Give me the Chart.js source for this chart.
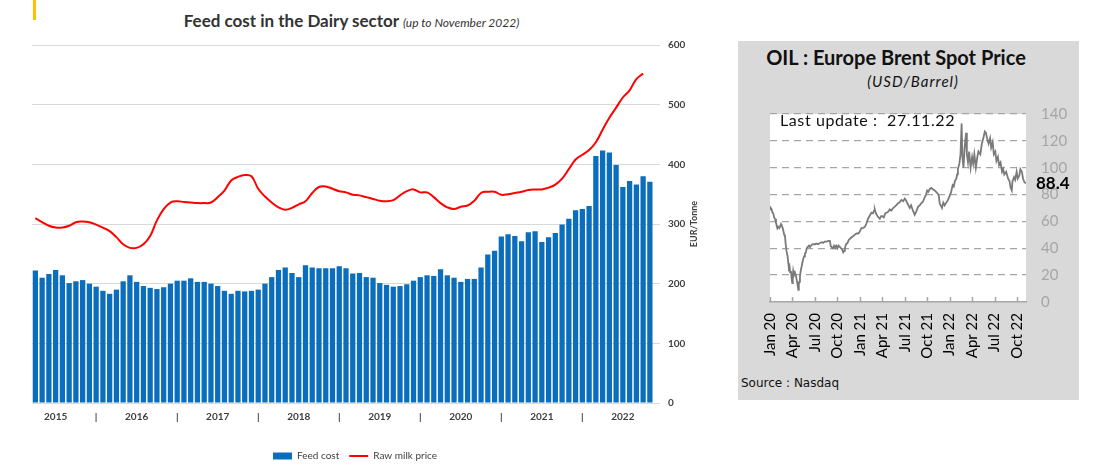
<!DOCTYPE html>
<html>
<head>
<meta charset="utf-8">
<script src="https://cdn.jsdelivr.net/npm/chart.js@4.4.0/dist/chart.umd.min.js"></script>
<style>
  html, body { margin: 0; padding: 0; background: #fff; }
  body { width: 1099px; height: 474px; position: relative; overflow: hidden; font-family: Lato, sans-serif; }
  .abs { position: absolute; }
  #marker { left: 33px; top: 0; width: 3px; height: 20px; background: #ffc000; }
  #feedTitle { left: 0; width: 703px; top: 10px; text-align: center; color: #333; font-size: 17px; font-weight: bold; line-height: 22px; white-space: nowrap; }
  #feedTitle i { font-size: 12px; font-weight: normal; }
  #feedWrap { left: 0; top: 30px; width: 710px; height: 444px; }
  #oilPanel { left: 738px; top: 41px; width: 341px; height: 359px; background: #d9d9d9; }
  #oilTitle { left: 738px; width: 316px; top: 45px; text-align: center; font-size: 20px; font-weight: bold; line-height: 24px; color: #111; white-space: nowrap; }
  #oilSub { left: 738px; width: 350px; top: 72px; text-align: center; font-size: 15px; font-style: italic; letter-spacing: 1px; line-height: 19px; color: #111; }
  #oilWrap { left: 738px; top: 90px; width: 342px; height: 275px; }
  #lastUpd { left: 780px; top: 110px; font-size: 16px; letter-spacing: 0.6px; line-height: 20px; color: #111; white-space: pre; }
  #source { left: 741px; top: 376px; font-family: "DejaVu Sans", sans-serif; font-size: 12px; line-height: 15px; color: #111; }
</style>
</head>
<body>
<div id="marker" class="abs"></div>
<div id="feedTitle" class="abs">Feed cost in the Dairy sector <i>(up to November 2022)</i></div>
<div id="feedWrap" class="abs"><canvas id="feedChart" width="710" height="444"></canvas></div>

<div id="oilPanel" class="abs"></div>
<div id="oilTitle" class="abs">OIL : Europe Brent Spot Price</div>
<div id="oilSub" class="abs">(USD/Barrel)</div>
<div id="oilWrap" class="abs"><canvas id="oilChart" width="342" height="275"></canvas></div>
<div id="lastUpd" class="abs">Last update :  27.11.22</div>
<div id="source" class="abs">Source : Nasdaq</div>

<script>
// Feed cost vs raw milk price, monthly from Apr 2015 (EUR/Tonne)
const monthNames = ['Jan', 'Feb', 'Mar', 'Apr', 'May', 'Jun', 'Jul', 'Aug', 'Sep', 'Oct', 'Nov', 'Dec'];
const months = [];
for (let y = 2015, m = 3; months.length < 93; ) {
    months.push(monthNames[m] + ' ' + y);
    m++;
    if (m === 12) { m = 0; y++; }
}

const feedCost = [
    222, 210, 216, 223, 214, 201, 204, 206, 200, 195,
    188, 183, 190, 204, 214, 203, 196, 193, 191, 194,
    200, 205, 205, 209, 203, 203, 200, 196, 188, 183,
    188, 187, 188, 190, 200, 211, 223, 227, 218, 211,
    231, 227, 226, 226, 226, 229, 226, 217, 218, 211,
    210, 201, 198, 195, 196, 199, 205, 211, 214, 213,
    224, 214, 210, 203, 208, 208, 227, 249, 255, 279,
    283, 280, 271, 286, 288, 270, 278, 285, 299, 309,
    323, 325, 330, 414, 423, 420, 399, 362, 372, 366,
    380, 371
];

const milkPrice = [
    310, 303, 297, 294, 294, 297, 303, 304, 303, 299,
    294, 288, 278, 266, 260, 260, 266, 280, 306, 325,
    336, 338, 337, 336, 335, 335, 336, 345, 356, 373,
    379, 382, 380, 359, 346, 336, 328, 324, 327, 333,
    338, 352, 362, 363, 359, 355, 353, 349, 348, 345,
    342, 339, 338, 340, 348, 355, 358, 353, 353, 345,
    335, 328, 325, 329, 331, 339, 352, 354, 354, 349,
    350, 352, 354, 357, 358, 358, 361, 366, 376, 392,
    408, 416, 424, 437, 458, 478, 495, 512, 524, 543,
    552, null
];

const feedTicks = [0, 100, 200, 300, 400, 500, 600];

// Brent spot price, x = months since Jan 2020
const oilMonth = [
    0, 0.1, 0.22, 0.3, 0.44, 0.55, 0.67, 0.8, 0.9, 1.0, 1.1, 1.25, 1.4, 1.47, 1.55, 1.64, 1.75, 1.9,
    2.0, 2.1, 2.2, 2.35, 2.45, 2.53, 2.62, 2.7, 2.8, 2.9, 2.98, 3.05, 3.1, 3.2, 3.33, 3.45, 3.55, 3.65,
    3.78, 3.85, 3.9, 4.0, 4.13, 4.25, 4.35, 4.44, 4.55, 4.67, 4.8, 4.9, 5.05, 5.2, 5.35, 5.55, 5.75,
    6.0, 6.2, 6.45, 6.67, 6.9, 7.1, 7.3, 7.55, 7.8, 8.0, 8.1, 8.2, 8.4, 8.55, 8.67, 8.85, 9.0, 9.15,
    9.33, 9.5, 9.65, 9.78, 9.9, 10.0, 10.15, 10.36, 10.5, 10.67, 10.85, 11.1, 11.3, 11.55, 11.8,
    12.0, 12.2, 12.4, 12.67, 12.85, 13.1, 13.3, 13.55, 13.75, 13.9, 14.0, 14.15, 14.35, 14.5, 14.67,
    14.85, 15.0, 15.2, 15.4, 15.55, 15.75, 16.0, 16.2, 16.45, 16.67, 16.85, 17.1, 17.3, 17.55, 17.8,
    18.0, 18.15, 18.35, 18.5, 18.67, 18.85, 19.1, 19.33, 19.5, 19.65, 19.8, 20.0, 20.2, 20.45, 20.67,
    20.85, 21.0, 21.15, 21.33, 21.55, 21.75, 22.0, 22.2, 22.44, 22.55, 22.67, 22.8, 22.98, 23.15,
    23.33, 23.55, 23.78, 24.0, 24.2, 24.4, 24.55, 24.7, 24.9, 25.0, 25.1, 25.3, 25.45, 25.6, 25.7,
    25.85, 26.0, 26.2, 26.3, 26.45, 26.6, 26.8, 27.0, 27.15, 27.3, 27.5, 27.7, 27.85, 28.1, 28.3,
    28.5, 28.7, 28.85, 29.0, 29.2, 29.4, 29.55, 29.75, 29.9, 30.1, 30.25, 30.45, 30.6, 30.8, 31.0,
    31.15, 31.3, 31.55, 31.8, 32.0, 32.15, 32.3, 32.4, 32.6, 32.75, 32.95, 33.1, 33.3, 33.45, 33.65,
    33.8, 34.0, 34.2
];

const oilPrice = [
    69, 70, 69, 67, 66, 63, 62, 59, 57, 55, 56, 55, 57, 58, 57, 56, 54, 50,
    49, 43, 38, 34, 29, 25, 26, 22, 23, 17, 14, 20, 23, 20, 22, 20, 17, 14,
    9, 13, 15, 19, 24, 27, 30, 32, 34, 36, 37, 40, 41, 42, 41, 42.5, 43,
    43, 43.5, 43, 44, 44.5, 44, 45, 45, 45.5, 45.5, 42, 41, 40, 42, 41, 42, 40, 42,
    41, 40, 39, 37, 38, 40, 43, 44, 46, 47, 48, 49, 50, 51, 51,
    52.5, 55, 55, 56, 58, 62, 64, 66.5, 66, 68, 69, 66, 64, 63, 62,
    64, 64, 63, 66, 66.5, 67, 69, 68, 70, 71, 72, 73.5, 74, 76, 75,
    77, 76, 73.5, 72, 70, 72, 68, 65, 67, 69, 71, 72, 73.5, 75, 78,
    80, 83, 82, 84, 85, 84, 83, 82, 80.5, 79, 73.5, 72, 70, 74,
    72, 74, 76, 79, 82, 87, 86, 90, 92, 95, 99, 103, 110, 133, 108,
    100, 115, 126, 110, 104, 112, 100, 108, 103, 110, 100, 108, 112, 110, 118,
    122, 127, 126, 122, 118, 122, 115, 119, 110, 112, 105, 108, 102, 104, 97,
    99, 95, 97, 92, 90, 85, 83, 90, 93, 91, 97, 92, 94, 99, 97,
    92, 89, 88.4
];

const oilTickMonths = [0, 3, 6, 9, 12, 15, 18, 21, 24, 27, 30, 33];
const oilTickLabels = ['Jan 20', 'Apr 20', 'Jul 20', 'Oct 20', 'Jan 21', 'Apr 21', 'Jul 21', 'Oct 21', 'Jan 22', 'Apr 22', 'Jul 22', 'Oct 22'];

// rotated axis title on the right side, reading bottom-to-top
const yTitlePlugin = {
    id: 'yTitle',
    afterDraw(chart) {
        const ctx = chart.ctx;
        const a = chart.chartArea;
        ctx.save();
        ctx.translate(a.right + 34, (a.top + a.bottom) / 2);
        ctx.rotate(-Math.PI / 2);
        ctx.font = 'bold 9px Lato';
        ctx.fillStyle = '#404040';
        ctx.textAlign = 'center';
        ctx.textBaseline = 'middle';
        ctx.fillText('EUR/Tonne', 0, 0);
        ctx.restore();
    }
};

new Chart(document.getElementById('feedChart').getContext('2d'), {
    data: {
        labels: months,
        datasets: [{
            type: 'bar',
            label: 'Feed cost',
            data: feedCost,
            yAxisID: 'y',
            backgroundColor: '#0a6ebd',
            borderWidth: 0,
            barPercentage: 0.78,
            categoryPercentage: 1,
            pointStyle: 'rect',
            order: 2
        }, {
            type: 'line',
            label: 'Raw milk price',
            data: milkPrice,
            yAxisID: 'y',
            borderColor: '#ff0000',
            backgroundColor: '#ff0000',
            borderWidth: 2,
            pointRadius: 0,
            pointStyle: 'line',
            tension: 0.4,
            order: 1
        }]
    },
    options: {
        responsive: false,
        animation: false,
        layout: { padding: { left: 0, right: 0, top: 15, bottom: 3 } },
        plugins: {
            tooltip: { enabled: false },
            legend: {
                position: 'bottom',
                labels: {
                    usePointStyle: true,
                    pointStyleWidth: 19,
                    boxHeight: 7,
                    padding: 10,
                    color: '#404040',
                    font: { family: 'Lato', size: 10 },
                    sort: (a, b) => a.datasetIndex - b.datasetIndex
                }
            }
        },
        scales: {
            x: {
                grid: { display: false, drawTicks: false },
                border: { display: false },
                ticks: {
                    autoSkip: false,
                    maxRotation: 0,
                    minRotation: 0,
                    padding: 8,
                    color: '#404040',
                    font: { family: 'Lato', size: 10, weight: 'bold' },
                    callback: function(value, index) {
                        const lab = months[index];
                        if (lab.startsWith('Jul')) return lab.slice(4);
                        if (lab.startsWith('Jan')) return '|';
                        return '';
                    }
                },
                afterFit: function(scale) { scale.height = 38; }
            },
            // empty left margin axis so the legend stays centred on the page
            pad: {
                type: 'linear',
                position: 'left',
                display: true,
                grid: { display: false, drawTicks: false },
                border: { display: false },
                ticks: { display: false },
                afterFit: function(scale) { scale.width = 32; }
            },
            y: {
                type: 'linear',
                position: 'right',
                min: 0,
                max: 600,
                afterBuildTicks: function(axis) { axis.ticks = feedTicks.map(v => ({ value: v })); },
                grid: { color: '#d9d9d9', drawTicks: false },
                border: { display: false },
                ticks: {
                    padding: 8,
                    color: '#404040',
                    font: { family: 'Lato', size: 10, weight: 'bold' }
                },
                afterFit: function(scale) { scale.width = 50; }
            }
        }
    },
    plugins: [yTitlePlugin]
});

// white plot background, inward tick marks and last value label
const oilPlugin = {
    id: 'oilExtras',
    beforeDraw(chart) {
        const a = chart.chartArea;
        chart.ctx.save();
        chart.ctx.fillStyle = '#ffffff';
        chart.ctx.fillRect(a.left, a.top, a.right - a.left, a.bottom - a.top);
        chart.ctx.restore();
    },
    afterDraw(chart) {
        const ctx = chart.ctx;
        const a = chart.chartArea;
        const xs = chart.scales.x;
        const ys = chart.scales.y;
        ctx.save();
        ctx.strokeStyle = '#a6a6a6';
        ctx.lineWidth = 1.5;
        oilTickMonths.forEach(function(m) {
            const px = Math.round(xs.getPixelForValue(m)) + 0.5;
            ctx.beginPath();
            ctx.moveTo(px, a.bottom);
            ctx.lineTo(px, a.bottom - 5);
            ctx.stroke();
        });
        const last = oilPrice[oilPrice.length - 1];
        ctx.font = 'bold 17px Lato';
        ctx.fillStyle = '#000';
        ctx.textAlign = 'left';
        ctx.textBaseline = 'middle';
        ctx.fillText(last.toFixed(1), a.right + 10, ys.getPixelForValue(last));
        ctx.restore();
    }
};

new Chart(document.getElementById('oilChart').getContext('2d'), {
    type: 'line',
    data: {
        datasets: [{
            label: 'Brent',
            data: oilMonth.map((t, i) => ({ x: t, y: oilPrice[i] })),
            borderColor: '#7a7a7a',
            borderWidth: 1.8,
            pointRadius: 0,
            tension: 0
        }]
    },
    options: {
        responsive: false,
        animation: false,
        layout: { padding: { left: 32, right: 0, top: 12, bottom: 0 } },
        plugins: { legend: { display: false }, tooltip: { enabled: false } },
        scales: {
            x: {
                type: 'linear',
                min: 0,
                max: 34.2,
                afterBuildTicks: function(axis) { axis.ticks = oilTickMonths.map(v => ({ value: v })); },
                grid: { display: false, drawTicks: false },
                border: { display: true, color: '#a6a6a6', width: 1.5 },
                ticks: {
                    autoSkip: false,
                    maxRotation: 90,
                    minRotation: 90,
                    padding: 11,
                    color: '#000',
                    font: { family: 'Lato', size: 15 },
                    callback: function(value, index) { return oilTickLabels[index]; }
                },
                afterFit: function(scale) { scale.height = 63; }
            },
            y: {
                position: 'right',
                min: 0,
                max: 140,
                ticks: {
                    stepSize: 20,
                    padding: 15,
                    color: '#a6a6a6',
                    font: { family: 'Lato', size: 15 }
                },
                grid: {
                    drawTicks: false,
                    lineWidth: 1.3,
                    color: ctx => ctx.tick && ctx.tick.value === 0 ? 'rgba(0,0,0,0)' : '#a6a6a6'
                },
                border: { display: false, dash: [7, 5] },
                afterFit: function(scale) { scale.width = 54; }
            }
        }
    },
    plugins: [oilPlugin]
});
</script>
</body>
</html>
